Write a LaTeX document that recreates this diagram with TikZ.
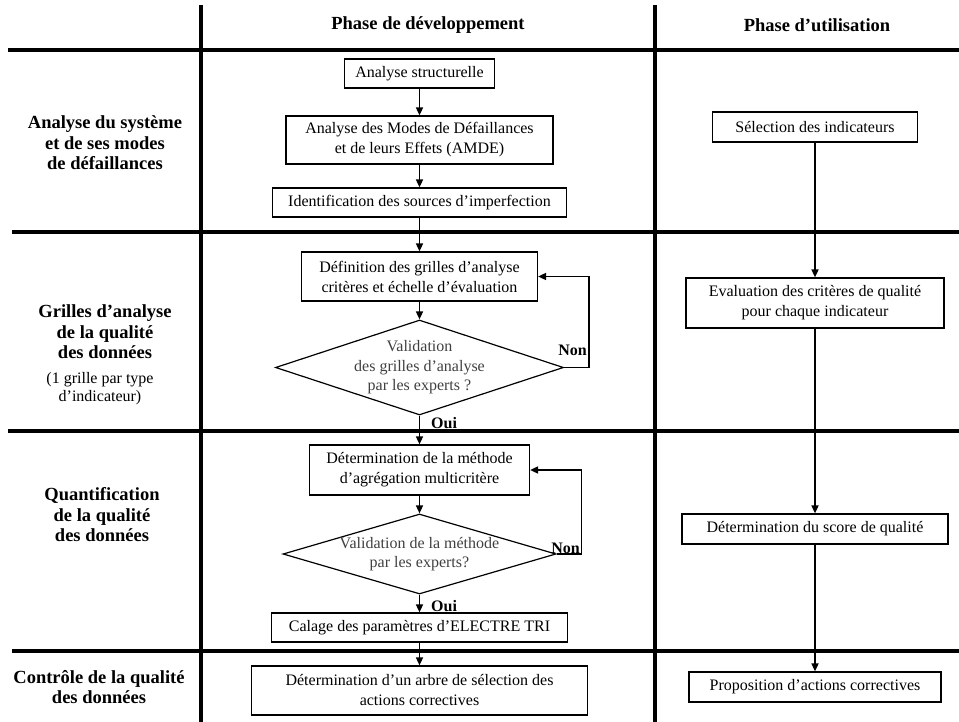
\documentclass[tikz,border=0pt]{standalone}
\usepackage{fontspec}
\setmainfont{Liberation Serif}
\usepackage{tikz}
\usetikzlibrary{shapes.geometric,arrows.meta,positioning,calc}

\begin{document}
\begin{tikzpicture}[x=1pt, y=-1pt,
    >={Triangle[length=8pt,width=7pt]},
    grille/.style={line width=3.2pt},
    etape/.style={draw, line width=1.2pt, align=center, inner sep=2pt,
        font=\fontsize{16}{20}\selectfont},
    losange/.style={diamond, draw, line width=1.2pt, inner sep=0pt},
    valtxt/.style={align=center, text=black!75, inner sep=0pt,
        font=\fontsize{16}{19.5}\selectfont},
    fleche/.style={line width=1.6pt, ->},
    reponse/.style={font=\bfseries\fontsize{16}{18}\selectfont, inner sep=0pt},
    titre/.style={font=\bfseries\fontsize{18.5}{20.5}\selectfont, align=center},
    phase/.style={font=\bfseries\fontsize{18.5}{20.5}\selectfont}]
    \useasboundingbox (0,0) rectangle (959,722);

    % Grid
    \draw[grille] (201,5) -- (201,722);
    \draw[grille] (655,5) -- (655,722);
    \draw[grille] (8,50) -- (959,50);
    \draw[grille] (12,232) -- (959,232);
    \draw[grille] (8,431) -- (959,431);
    \draw[grille] (12,651) -- (959,651);

    % Column headers
    \node[phase] (dev) at (428,25) {Phase de développement};
    \node[phase] (util) at (817,25) {Phase d’utilisation};

    % Row labels
    \node[titre] (rang1) at (105,143) {Analyse du système\\et de ses modes\\de défaillances};
    \node[titre] (rang2) at (105,332) {Grilles d’analyse\\de la qualité\\des données};
    \node[align=center, font=\fontsize{16}{18}\selectfont] (rang2b) at (100,389)
        {(1 grille par type\\d’indicateur)};
    \node[titre] (rang3) at (102,515) {Quantification\\de la qualité\\des données};
    \node[titre] (rang4) at (99,687) {Contrôle de la qualité\\des données};

    % Development phase
    \node[etape, minimum width=150pt, minimum height=29pt] (struct) at (419.5,73.5)
        {Analyse structurelle};
    \node[etape, minimum width=267pt, minimum height=48pt] (amde) at (419.5,140)
        {Analyse des Modes de Défaillances\\et de leurs Effets (AMDE)};
    \node[etape, minimum width=294pt, minimum height=29pt] (ident) at (419.5,202.5)
        {Identification des sources d’imperfection};
    \node[etape, minimum width=236pt, minimum height=49pt] (defgr) at (419.5,276.5)
        {Définition des grilles d’analyse\\critères et échelle d’évaluation};
    \node[losange, minimum width=288pt, minimum height=95pt] (val1) at (419.5,367.5) {};
    \node[valtxt] (val1txt) at (val1) {Validation\\des grilles d’analyse\\par les experts ?};
    \node[etape, minimum width=220pt, minimum height=50pt] (methode) at (419.5,470)
        {Détermination de la méthode\\d’agrégation multicritère};
    \node[losange, minimum width=273pt, minimum height=80pt] (val2) at (419.5,554) {};
    \node[valtxt] (val2txt) at (val2) {Validation de la méthode\\par les experts?};
    \node[etape, minimum width=296pt, minimum height=29pt] (calage) at (419.5,627.5)
        {Calage des paramètres d’ELECTRE TRI};
    \node[etape, minimum width=336pt, minimum height=49pt] (arbre) at (419.5,690.5)
        {Détermination d’un arbre de sélection des\\actions correctives};

    \draw[fleche] (struct) -- (amde);
    \draw[fleche] (amde) -- (ident);
    \draw[fleche] (ident) -- (defgr);
    \draw[fleche] (defgr) -- (val1);
    \draw[fleche] (val1) -- (methode);
    \draw[fleche] (methode) -- (val2);
    \draw[fleche] (val2) -- (calage);
    \draw[fleche] (calage) -- (arbre);

    % Loops
    \draw[fleche] (val1.east) -- ++(25,0) |- (defgr.east);
    \draw[fleche] (val2.east) -- ++(25,0) |- (methode.east);
    \node[reponse, anchor=east] (non1) at (587,350) {Non};
    \node[reponse, anchor=east] (non2) at (580,548) {Non};
    \node[reponse, anchor=west] (oui1) at (431,423) {Oui};
    \node[reponse, anchor=west] (oui2) at (431,606) {Oui};

    % Use phase
    \node[etape, minimum width=205pt, minimum height=30pt] (select) at (815,127)
        {Sélection des indicateurs};
    \node[etape, minimum width=258pt, minimum height=50pt] (evalu) at (815,303)
        {Evaluation des critères de qualité\\pour chaque indicateur};
    \node[etape, minimum width=266pt, minimum height=30pt] (score) at (815,529)
        {Détermination du score de qualité};
    \node[etape, minimum width=252pt, minimum height=30pt] (propos) at (815,687)
        {Proposition d’actions correctives};

    \draw[fleche] (select) -- (evalu);
    \draw[fleche] (evalu) -- (score);
    \draw[fleche] (score) -- (propos);
\end{tikzpicture}
\end{document}
